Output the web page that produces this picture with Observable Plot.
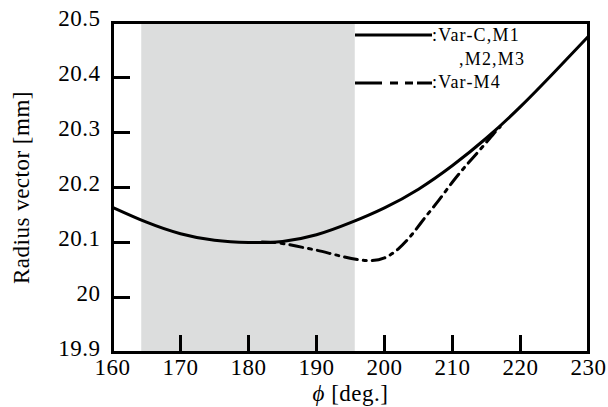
<!DOCTYPE html>
<html>
<head>
<meta charset="utf-8">
<script src="https://cdn.jsdelivr.net/npm/d3@7"></script>
<script src="https://cdn.jsdelivr.net/npm/@observablehq/plot@0.6"></script>
<style>
  html, body { margin: 0; padding: 0; background: #fff; }
</style>
</head>
<body>
<div id="chart"></div>
<script>
// Data
const phiSolid = [160, 165, 170, 175, 180, 185, 190, 195, 200, 205, 210, 215, 220, 225, 230];
const rSolid   = [20.164, 20.137, 20.116, 20.104, 20.100, 20.102, 20.114, 20.136, 20.163, 20.197, 20.240, 20.290, 20.347, 20.410, 20.475];

const phiM4 = [182, 184, 186, 188, 190, 192, 194, 196, 198, 200, 202, 204, 206, 208, 210, 212, 214, 216, 217];
const rM4   = [20.101, 20.100, 20.096, 20.091, 20.086, 20.080, 20.074, 20.069, 20.067, 20.072, 20.088, 20.114, 20.146, 20.177, 20.210, 20.240, 20.268, 20.297, 20.31];

const shadeRange = [164.3, 195.7];
const xDomain = [160, 230];
const yDomain = [19.9, 20.5];
const xTicks = [160, 170, 180, 190, 200, 210, 220, 230];
const yTicks = [19.9, 20.0, 20.1, 20.2, 20.3, 20.4, 20.5];
const seriesNames = [":Var-C,M1", ",M2,M3", ":Var-M4"];
const xLabel = "ϕ [deg.]";
const yLabel = "Radius vector [mm]";

const solid = phiSolid.map((p, i) => ({phi: p, r: rSolid[i]}));
const m4 = phiM4.map((p, i) => ({phi: p, r: rM4[i]}));

const W = 608, H = 407, mL = 112, mR = 20, mT = 22, mB = 55;
const plotW = W - mL - mR, plotH = H - mT - mB;
const FONT = "Liberation Serif, Times New Roman, serif";

const chart = Plot.plot({
  width: W,
  height: H,
  marginLeft: mL,
  marginRight: mR,
  marginTop: mT,
  marginBottom: mB,
  style: {fontFamily: FONT, fontSize: "23px", letterSpacing: "0.5px", color: "#000", background: "#fff"},
  x: {domain: xDomain},
  y: {domain: yDomain},
  marks: [
    Plot.rect([shadeRange], {x1: d => d[0], x2: d => d[1], y1: () => yDomain[0], y2: () => yDomain[1], fill: "#dcdddd"}),
    Plot.line(solid, {x: "phi", y: "r", curve: "natural", stroke: "#000", strokeWidth: 3}),
    Plot.line(m4, {x: "phi", y: "r", curve: "natural", stroke: "#000", strokeWidth: 3, strokeDasharray: "13,6,3,6"}),
    Plot.ruleX(xTicks.slice(1, -1), {x: d => d, insetTop: plotH - 17, stroke: "#000", strokeWidth: 3}),
    Plot.ruleY(yTicks.slice(1, -1), {y: d => d, insetRight: plotW - 18, stroke: "#000", strokeWidth: 3}),
    Plot.axisX({ticks: xTicks, tickSize: 0, tickPadding: 6, label: null, fontSize: 23, tickFormat: d => String(d)}),
    Plot.axisY({ticks: yTicks, tickSize: 0, tickPadding: 12, label: null, fontSize: 23, dy: -4, tickFormat: d => String(+d.toFixed(1))}),
    Plot.frame({stroke: "#000", strokeWidth: 3}),
    Plot.text([yLabel], {text: d => d, frameAnchor: "left", textAnchor: "middle", lineAnchor: "middle", rotate: -90, dx: -91, fontSize: 23}),
    Plot.text([xLabel], {text: d => d, frameAnchor: "bottom", textAnchor: "middle", lineAnchor: "middle", dy: 41, fontSize: 23})
  ]
});

document.getElementById("chart").appendChild(chart);

// italic phi in x label
const svg = d3.select(chart);
svg.selectAll("text").each(function() {
  const t = d3.select(this);
  if (t.text() === xLabel) {
    t.text(null);
    t.append("tspan").attr("font-style", "italic").text("ϕ");
    t.append("tspan").text(" [deg.]");
  }
});

// Legend inside the frame
const lg = svg.append("g")
  .attr("font-family", FONT)
  .attr("font-size", 18)
  .attr("text-anchor", "start")
  .style("letter-spacing", "1.2px");
lg.append("line").attr("x1", 355).attr("x2", 432).attr("y1", 35).attr("y2", 35)
  .attr("stroke", "#000").attr("stroke-width", 3);
lg.append("line").attr("x1", 355).attr("x2", 432).attr("y1", 83).attr("y2", 83)
  .attr("stroke", "#000").attr("stroke-width", 3).attr("stroke-dasharray", "27,8,8,7,8,4,15");
lg.append("text").attr("x", 432).attr("y", 41).attr("text-anchor", "start").text(seriesNames[0]);
lg.append("text").attr("x", 459).attr("y", 65).attr("text-anchor", "start").text(seriesNames[1]);
lg.append("text").attr("x", 432).attr("y", 88).attr("text-anchor", "start").text(seriesNames[2]);
</script>
</body>
</html>
